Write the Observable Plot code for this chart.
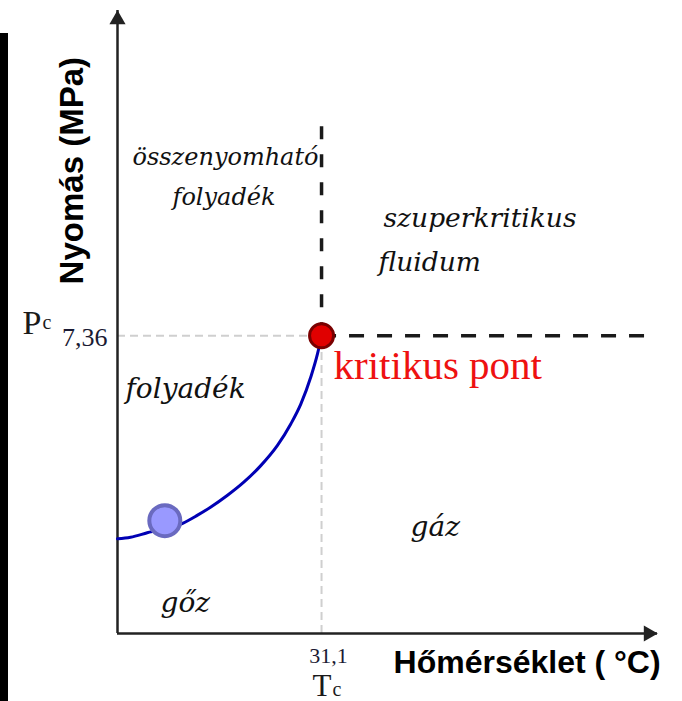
<!DOCTYPE html>
<html><head><meta charset="utf-8">
<script src="https://cdn.jsdelivr.net/npm/d3@7"></script>
<script src="https://cdn.jsdelivr.net/npm/@observablehq/plot@0.6"></script>
<style>
body{margin:0;background:#fff;}
#wrap{position:relative;width:682px;height:701px;}
#edge{position:absolute;left:0;top:33px;width:8px;height:668px;background:#000;}
#wrap svg{position:absolute;left:0;top:0;}
#wrap svg g[aria-label="y-axis tick label"] text{font-family:"Liberation Serif","Times New Roman",serif;font-size:26px;fill:#1a1a33;}
#wrap svg g[aria-label="x-axis tick label"] text{font-family:"Liberation Serif","Times New Roman",serif;font-size:22px;fill:#1a1a33;}
</style></head><body><div id="wrap"><div id="edge"></div></div>
<script>
// ---- data ----
const tempDomain = [-15, 107];
const pressureDomain = [0, 15.4];
const criticalT = 31.1;
const criticalP = 7.36;
const curveT = [-15, -12.06, -8.29, -0.16, 3.0, 6.01, 9.78, 13.53, 17.37, 21.14, 24.15, 26.41, 28.67, 30.18, 31.1];
const curveP = [2.34, 2.38, 2.49, 2.73, 2.92, 3.12, 3.41, 3.74, 4.15, 4.65, 5.18, 5.67, 6.34, 6.91, 7.36];
const markerT = -4.31;
const markerP = 2.79;
const xTicks = [31.1];
const xTickLabels = ["31,1"];
const yTicks = [7.36];
const yTickLabels = ["7,36"];
const supercritTop = 12.6;
const leftUpperText = ["összenyomható", "folyadék"];
const leftUpperT = [-11.61, -2.57];
const leftUpperP = [11.57, 10.58];
const rightUpperText = ["szuperkritikus", "fluidum"];
const rightUpperT = [45.1, 43.97];
const rightUpperP = [10.04, 8.97];
const lowerText = ["folyadék", "gáz", "gőz"];
const lowerT = [-13.19, 51.2, -5.29];
const lowerP = [5.83, 2.42, 0.54];
const yTitle = "Nyomás (MPa)";
const yTitleP = 11.44;
const xTitle = "Hőmérséklet ( °C)";
const xTitleT = 47.36;
const critLabel = "kritikus pont";

// ---- build ----
const curve = curveT.map((t, i) => ({t, p: curveP[i]}));
const rows = (txt, ts, ps) => txt.map((s, i) => ({s, t: ts[i], p: ps[i]}));
const leftUpper = rows(leftUpperText, leftUpperT, leftUpperP);
const rightUpper = rows(rightUpperText, rightUpperT, rightUpperP);
const lower = rows(lowerText, lowerT, lowerP);
const serif = "Liberation Serif, Times New Roman, serif";
const italicSerif = "DejaVu Serif, serif";
const sans = "Liberation Sans, Arial, sans-serif";

const chart = Plot.plot({
  width: 682,
  height: 701,
  marginLeft: 117,
  marginRight: 25,
  marginTop: 10,
  marginBottom: 68,
  x: {domain: tempDomain},
  y: {domain: pressureDomain},
  style: {background: "transparent"},
  marks: [
    // light grey guides
    Plot.ruleY([criticalP], {x1: tempDomain[0], x2: criticalT, stroke: "#cfcfcf", strokeWidth: 2, strokeDasharray: "8,5"}),
    Plot.ruleX([criticalT], {y1: 0, y2: criticalP, stroke: "#cfcfcf", strokeWidth: 2, strokeDasharray: "8,5"}),
    // black supercritical boundaries
    Plot.ruleX([criticalT], {y1: criticalP, y2: supercritTop, stroke: "#1a1a1a", strokeWidth: 3.5, strokeDasharray: "13,15"}),
    Plot.ruleY([criticalP], {x1: criticalT, x2: tempDomain[1] - 1, stroke: "#1a1a1a", strokeWidth: 3.5, strokeDasharray: "15,13"}),
    // axes lines with arrowheads
    Plot.ruleX([tempDomain[0]], {stroke: "#222", strokeWidth: 2.5}),
    Plot.ruleY([0], {stroke: "#222", strokeWidth: 2.5}),
    Plot.dot([0], {y: d => d, frameAnchor: "right", symbol: "triangle", rotate: 90, r: 6, fill: "#222", stroke: "none", dx: -9}),
    Plot.dot([tempDomain[0]], {x: d => d, frameAnchor: "top", symbol: "triangle", r: 6, fill: "#222", stroke: "none", dy: 9}),
    // ticks
    Plot.axisY(yTicks, {tickFormat: d => yTickLabels[yTicks.indexOf(d)], tickSize: 0, tickPadding: 10, dy: 2, label: null}),
    Plot.axisX(xTicks, {tickFormat: d => xTickLabels[xTicks.indexOf(d)], tickSize: 0, tickPadding: 14, dx: 7, label: null}),
    // vapor pressure curve
    Plot.line(curve, {x: "t", y: "p", curve: "monotone-x", stroke: "#0000b4", strokeWidth: 3}),
    Plot.dot([{t: markerT, p: markerP}], {x: "t", y: "p", r: 15.5, fill: "#9999ff", stroke: "#6a6ac0", strokeWidth: 4}),
    Plot.dot([{t: criticalT, p: criticalP}], {x: "t", y: "p", r: 12, fill: "#e00000", stroke: "#7a0000", strokeWidth: 3}),
    Plot.text([{t: criticalT, p: criticalP}], {x: "t", y: "p", text: () => critLabel, dx: 12, dy: 43, textAnchor: "start", lineAnchor: "bottom", fontSize: 41, fontFamily: serif, fill: "#ee1111"}),
    // Pc / Tc symbols
    Plot.text(["P"], {y: [criticalP], text: d => d, frameAnchor: "left", dx: -95, dy: -2, textAnchor: "start", lineAnchor: "bottom", fontSize: 34, fontFamily: serif, fill: "#1a1a1a"}),
    Plot.text(["c"], {y: [criticalP], text: d => d, frameAnchor: "left", dx: -75, dy: -7, textAnchor: "start", lineAnchor: "bottom", fontSize: 20, fontFamily: serif, fill: "#1a1a1a"}),
    Plot.text(["T"], {x: [criticalT], text: d => d, frameAnchor: "bottom", dx: -9, dy: 62, textAnchor: "start", lineAnchor: "bottom", fontSize: 31, fontFamily: serif, fill: "#1a1a1a"}),
    Plot.text(["c"], {x: [criticalT], text: d => d, frameAnchor: "bottom", dx: 11, dy: 62, textAnchor: "start", lineAnchor: "bottom", fontSize: 20, fontFamily: serif, fill: "#1a1a1a"}),
    // region labels
    Plot.text(leftUpper, {x: "t", y: "p", text: "s", textAnchor: "start", lineAnchor: "bottom", fontSize: 24, fontStyle: "italic", fontFamily: italicSerif, fill: "#111"}),
    Plot.text(rightUpper, {x: "t", y: "p", text: "s", textAnchor: "start", lineAnchor: "bottom", fontSize: 26.5, fontStyle: "italic", fontFamily: italicSerif, fill: "#111"}),
    Plot.text(lower, {x: "t", y: "p", text: "s", textAnchor: "start", lineAnchor: "bottom", fontSize: 28, fontStyle: "italic", fontFamily: italicSerif, fill: "#111"}),
    // axis titles
    Plot.text([yTitle], {x: [tempDomain[0]], y: [yTitleP], text: d => d, dx: -45, rotate: -90, fontSize: 33, fontWeight: "bold", fontFamily: sans, fill: "#000"}),
    Plot.text([xTitle], {x: [xTitleT], y: [0], text: d => d, dy: 39, textAnchor: "start", lineAnchor: "bottom", fontSize: 32, fontWeight: "bold", fontFamily: sans, fill: "#000"})
  ]
});
document.getElementById("wrap").appendChild(chart);
</script>
</body></html>
